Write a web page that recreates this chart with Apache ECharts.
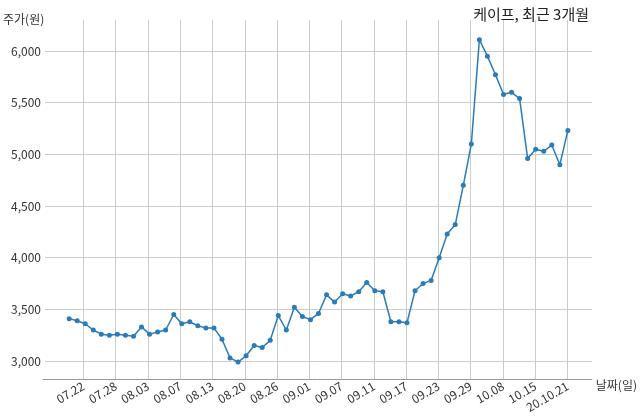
<!DOCTYPE html>
<html><head><meta charset="utf-8">
<script src="https://cdn.jsdelivr.net/npm/echarts@6/dist/echarts.min.js"></script>
<style>html,body{margin:0;padding:0;background:#fff}#c{width:640px;height:419px}</style>
</head><body><div id="c"></div>
<script>
const tickLabels = ['07.22','07.28','08.03','08.07','08.13','08.20','08.26','09.01','09.07','09.11','09.17','09.23','09.29','10.08','10.15','20.10.21'];
const prices = [3410,3390,3360,3300,3260,3250,3260,3250,3240,3330,3260,3280,3300,3450,3360,3380,3340,3320,3320,3210,3030,2990,3050,3150,3130,3200,3440,3300,3520,3430,3400,3460,3640,3570,3650,3630,3670,3760,3680,3670,3380,3380,3370,3680,3750,3780,4000,4230,4320,4700,5100,6110,5950,5770,5580,5600,5540,4960,5050,5030,5090,4900,5230];
const pad = 3;
const n = prices.length + 2*pad;
const cats = [], data = [];
for (let i = 0; i < n; i++) {
  const k = i - pad - 2;
  cats.push(k >= 0 && k % 4 === 0 ? tickLabels[k/4] : '');
  const j = i - pad;
  data.push(j >= 0 && j < prices.length ? prices[j] : '-');
}
const isTick = (i) => { const k = i - pad - 2; return k >= 0 && k % 4 === 0 && k/4 < tickLabels.length; };
const font = 'Noto Sans CJK KR';
const chart = echarts.init(document.getElementById('c'));
chart.setOption({
  animation: false,
  textStyle: {fontFamily: font},
  title: {text: '케이프, 최근 3개월', right: 46, top: 2, textStyle: {fontSize: 15, fontWeight: 'normal', color: '#222', fontFamily: font}},
  grid: [
    {left: 43, right: 48, top: 51, bottom: 58},
    {left: 43, right: 48, top: 20, bottom: 40}
  ],
  xAxis: [
    {gridIndex: 0, type: 'category', data: cats, boundaryGap: false, show: false},
    {gridIndex: 1, type: 'category', data: cats, boundaryGap: false,
     name: '날짜(일)', nameLocation: 'end', nameGap: 4,
     nameTextStyle: {fontSize: 12, color: '#333', verticalAlign: 'top', padding: [0,0,0,0]},
     axisLine: {lineStyle: {color: '#999'}}, axisTick: {show: false},
     axisLabel: {interval: (i) => isTick(i), rotate: 30, fontSize: 12, color: '#333', margin: 6},
     splitLine: {show: true, interval: (i) => isTick(i), lineStyle: {color: '#ccc'}}}
  ],
  yAxis: [
    {gridIndex: 0, type: 'value', min: 3000, max: 6000, interval: 500,
     name: '주가(원)', nameLocation: 'end', nameGap: 0,
     nameTextStyle: {fontSize: 12, color: '#333', align: 'left', padding: [0,0,26,-42]},
     axisLine: {show: false}, axisTick: {show: false},
     axisLabel: {fontSize: 12, color: '#333', margin: 4, formatter: (v) => v.toLocaleString('en-US')},
     splitLine: {lineStyle: {color: '#ccc'}}},
    {gridIndex: 1, type: 'value', show: false, splitLine: {show: false}}
  ],
  series: [{
    type: 'line', xAxisIndex: 0, yAxisIndex: 0, data: data, clip: false,
    symbol: 'circle', symbolSize: 5, showSymbol: true,
    itemStyle: {color: '#2b7bb9'}, lineStyle: {color: '#2b7bb9', width: 1.5}
  }]
});
</script></body></html>
